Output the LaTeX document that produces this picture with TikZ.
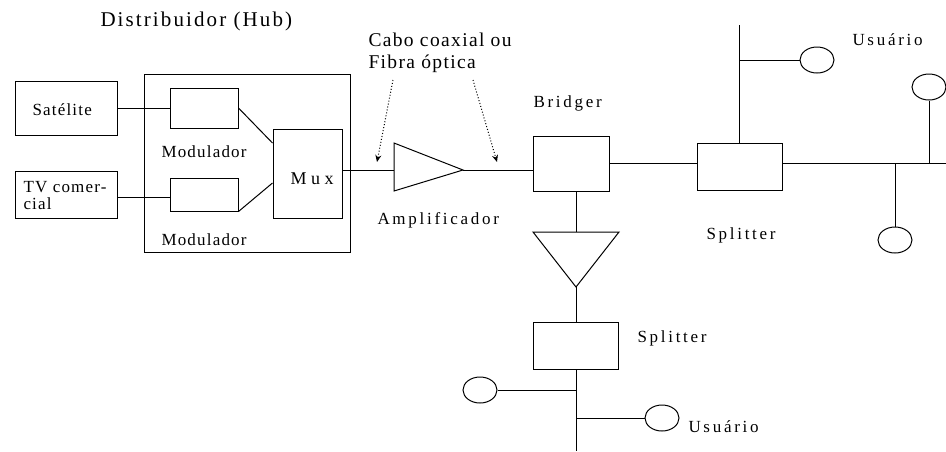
\documentclass[tikz,border=0pt]{standalone}
\usepackage{fontspec}
\setmainfont{Liberation Serif}
\newfontfamily\lsA[LetterSpace=16]{Liberation Serif}
\newfontfamily\lsS[LetterSpace=7]{Liberation Serif}
\newfontfamily\lsB[LetterSpace=10]{Liberation Serif}
\newfontfamily\lsD[LetterSpace=7]{Liberation Serif}
\newfontfamily\lsC[LetterSpace=25]{Liberation Serif}
\usetikzlibrary{shapes.geometric,arrows.meta}
\begin{document}
\begin{tikzpicture}[x=1pt,y=-1pt,line width=1pt,
  box/.style={draw,rectangle,inner sep=0,minimum width=#1},
  usr/.style={draw,ellipse,inner sep=0,minimum width=34pt,minimum height=26pt},
  lbl/.style={anchor=base west,inner sep=0,font=\lsA\fontsize{17}{20}\selectfont},
  lblS/.style={anchor=base west,inner sep=0,font=\lsS\fontsize{17}{18}\selectfont},
  lblB/.style={anchor=base west,inner sep=0,font=\lsB\fontsize{21}{24}\selectfont},
  lblD/.style={anchor=base west,inner sep=0,font=\lsD\fontsize{19.5}{22}\selectfont},
  ptr/.style={dotted,line width=1pt,-{Stealth[length=7pt,width=6pt]}}]
\useasboundingbox (0,0) rectangle (946,451);
% boxes
\node[box=102,minimum height=54] (sat) at (66,108) {};
\node[box=102,minimum height=47] (tv) at (66,194.5) {};
\node[box=206,minimum height=178] (hub) at (247,163) {};
\node[box=68,minimum height=40] (mod1) at (204,108) {};
\node[box=68,minimum height=33] (mod2) at (204,194.5) {};
\node[box=69,minimum height=89] (mux) at (307.5,173.5) {};
\node[box=76,minimum height=55] (brg) at (571,163.5) {};
\node[box=85,minimum height=47] (spl1) at (739.5,166.5) {};
\node[box=85,minimum height=47] (spl2) at (575.5,345.5) {};
% amplifiers
\coordinate (ampT) at (394,143);
\coordinate (ampB) at (394,191);
\coordinate (ampL) at (394,170);
\coordinate (ampR) at (463,170);
\draw (ampT) -- (ampR) -- (ampB) -- cycle;
\coordinate (tri2L) at (533,232);
\coordinate (tri2R) at (619,232);
\coordinate (tri2T) at (576,232);
\coordinate (tri2B) at (576,287);
\draw (tri2L) -- (tri2R) -- (tri2B) -- cycle;
% users
\node[usr] (u1) at (817,60) {};
\node[usr] (u2) at (929,87) {};
\node[usr] (u3) at (895,240) {};
\node[usr] (u4) at (480,390) {};
\node[usr] (u5) at (662,418) {};
% coordinates
\coordinate (top1) at (739.5,25);
\coordinate (br1) at (739.5,60);
\coordinate (rEnd) at (946,163.5);
\coordinate (j1) at (895,163.5);
\coordinate (j2) at (929,163.5);
\coordinate (bot) at (576,451);
\coordinate (br4) at (576,390);
\coordinate (br5) at (576,418);
\coordinate (bs) at (576,191);
% connectors
\draw (sat) -- (mod1);
\draw ([yshift=-3pt]tv.east) -- ([yshift=-3pt]mod2.west);
\draw (mod1.east) -- ([yshift=30.5pt]mux.west);
\draw (mod2.south east) -- ([yshift=-9.5pt]mux.west);
\draw (mux.east |- ampL) -- (ampL);
\draw (ampR) -- (brg.west |- ampR);
\draw (brg.east) -- (spl1.west |- brg.east);
\draw (spl1.east |- rEnd) -- (rEnd);
\draw (spl1.north -| top1) -- (top1);
\draw (br1) -- (u1);
\draw (j2) -- (u2);
\draw (j1) -- (u3);
\draw (bs) -- (tri2T);
\draw (tri2B) -- (spl2.north -| tri2B);
\draw (spl2.south -| bot) -- (bot);
\draw (br4) -- (u4);
\draw (br5) -- (u5);
% dotted pointers
\coordinate (p1s) at (393,80);
\coordinate (p1e) at (377,162);
\coordinate (p2s) at (473,80);
\coordinate (p2e) at (497,162);
\draw[ptr] (p1s) -- (p1e);
\draw[ptr] (p2s) -- (p2e);
% labels
\node[lblB] (tHub) at (100,26) {Distribuidor (Hub)};
\node[lblS] (tSat) at (32,115) {Satélite};
\node[lblS] (tTV1) at (23,192) {TV comer-};
\node[lblS] (tTV2) at (23,209) {cial};
\node[lblS] (tMod1) at (161,157) {Modulador};
\node[lblS] (tMod2) at (161,245) {Modulador};
\node[anchor=base west,inner sep=0,font=\lsC\fontsize{18}{20}\selectfont] (tMux) at (290,184) {Mux};
\node[lblD] (tCabo1) at (368,46) {Cabo coaxial ou};
\node[lblD] (tCabo2) at (368,68) {Fibra óptica};
\node[lbl] (tBrg) at (533,107) {Bridger};
\node[lbl] (tAmp) at (377,224) {Amplificador};
\node[lbl] (tUsr1) at (852,45) {Usuário};
\node[lbl] (tSpl1) at (706,239) {Splitter};
\node[lbl] (tSpl2) at (637,342) {Splitter};
\node[lbl] (tUsr2) at (688,432) {Usuário};
\end{tikzpicture}
\end{document}
